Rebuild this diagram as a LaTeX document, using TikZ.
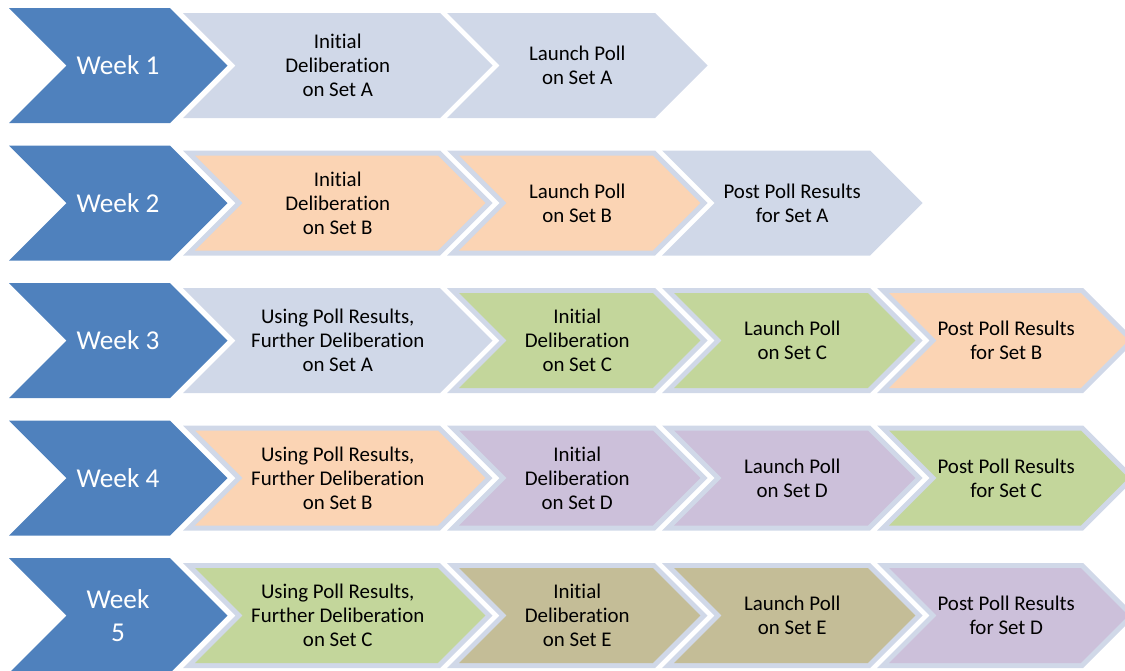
\documentclass[tikz,border=0pt]{standalone}
\usepackage{fontspec}
\setmainfont{Carlito}[Ligatures={NoCommon}]
\definecolor{weekblue}{HTML}{4F81BD}
\definecolor{rim}{HTML}{D0D8E8}
\definecolor{setB}{HTML}{FBD4B4}
\definecolor{setC}{HTML}{C3D69B}
\definecolor{setD}{HTML}{CCC0DA}
\definecolor{setE}{HTML}{C4BD97}

\newcommand{\chev}[5]{\fill[#1] ({#2},{#3-(#5)}) -- ++({#4},0) -- ++({#5},{#5})
  -- ++({-(#5)},{#5}) -- ++({-(#4)},0) -- ++({#5},{-(#5)}) -- cycle;}
\newcommand{\week}[3]{\chev{weekblue}{9}{#1}{161}{57.5}
  \node[weektext] (#2) at (118,#1) {#3};}
\newcommand{\stage}[6]{\chev{rim}{#2}{#3}{#4}{52.5}
  \chev{#1}{#2+12.07}{#3}{#4-14.14}{47.5}
  \node[stagetext] (#5) at ({#2+(#4+52.5)/2},#3) {#6};}

\begin{document}
\begin{tikzpicture}[x=0.02cm,y=-0.02cm,
  stagetext/.style={align=center,font=\fontsize{11.9}{13.6}\selectfont},
  weektext/.style={align=center,text=white,font=\fontsize{15.5}{18.7}\selectfont}]
\useasboundingbox (0,0) rectangle (1125,670);
\clip (0,0) rectangle (1125,670);

\week{65.5}{week1}{Week 1}
\stage{rim}{183}{65.5}{257}{deliberA}{Initial\\Deliberation\\on Set A}
\stage{rim}{447}{65.5}{208}{pollA}{Launch Poll\\on Set A}

\week{203}{week2}{Week 2}
\stage{setB}{183}{203}{257}{deliberB}{Initial\\Deliberation\\on Set B}
\stage{setB}{447}{203}{208}{pollB}{Launch Poll\\on Set B}
\stage{rim}{662}{203}{208}{resultsA}{Post Poll Results\\for Set A}

\week{340.5}{week3}{Week 3}
\stage{rim}{183}{340.5}{257}{furtherA}{Using Poll Results,\\Further Deliberation\\on Set A}
\stage{setC}{447}{340.5}{208}{deliberC}{Initial\\Deliberation\\on Set C}
\stage{setC}{662}{340.5}{208}{pollC}{Launch Poll\\on Set C}
\stage{setB}{877}{340.5}{206}{resultsB}{Post Poll Results\\for Set B}

\week{478}{week4}{Week 4}
\stage{setB}{183}{478}{257}{furtherB}{Using Poll Results,\\Further Deliberation\\on Set B}
\stage{setD}{447}{478}{208}{deliberD}{Initial\\Deliberation\\on Set D}
\stage{setD}{662}{478}{208}{pollD}{Launch Poll\\on Set D}
\stage{setC}{877}{478}{206}{resultsC}{Post Poll Results\\for Set C}

\week{615.5}{week5}{Week\\5}
\stage{setC}{183}{615.5}{257}{furtherC}{Using Poll Results,\\Further Deliberation\\on Set C}
\stage{setE}{447}{615.5}{208}{deliberE}{Initial\\Deliberation\\on Set E}
\stage{setE}{662}{615.5}{208}{pollE}{Launch Poll\\on Set E}
\stage{setD}{877}{615.5}{206}{resultsD}{Post Poll Results\\for Set D}
\end{tikzpicture}
\end{document}
